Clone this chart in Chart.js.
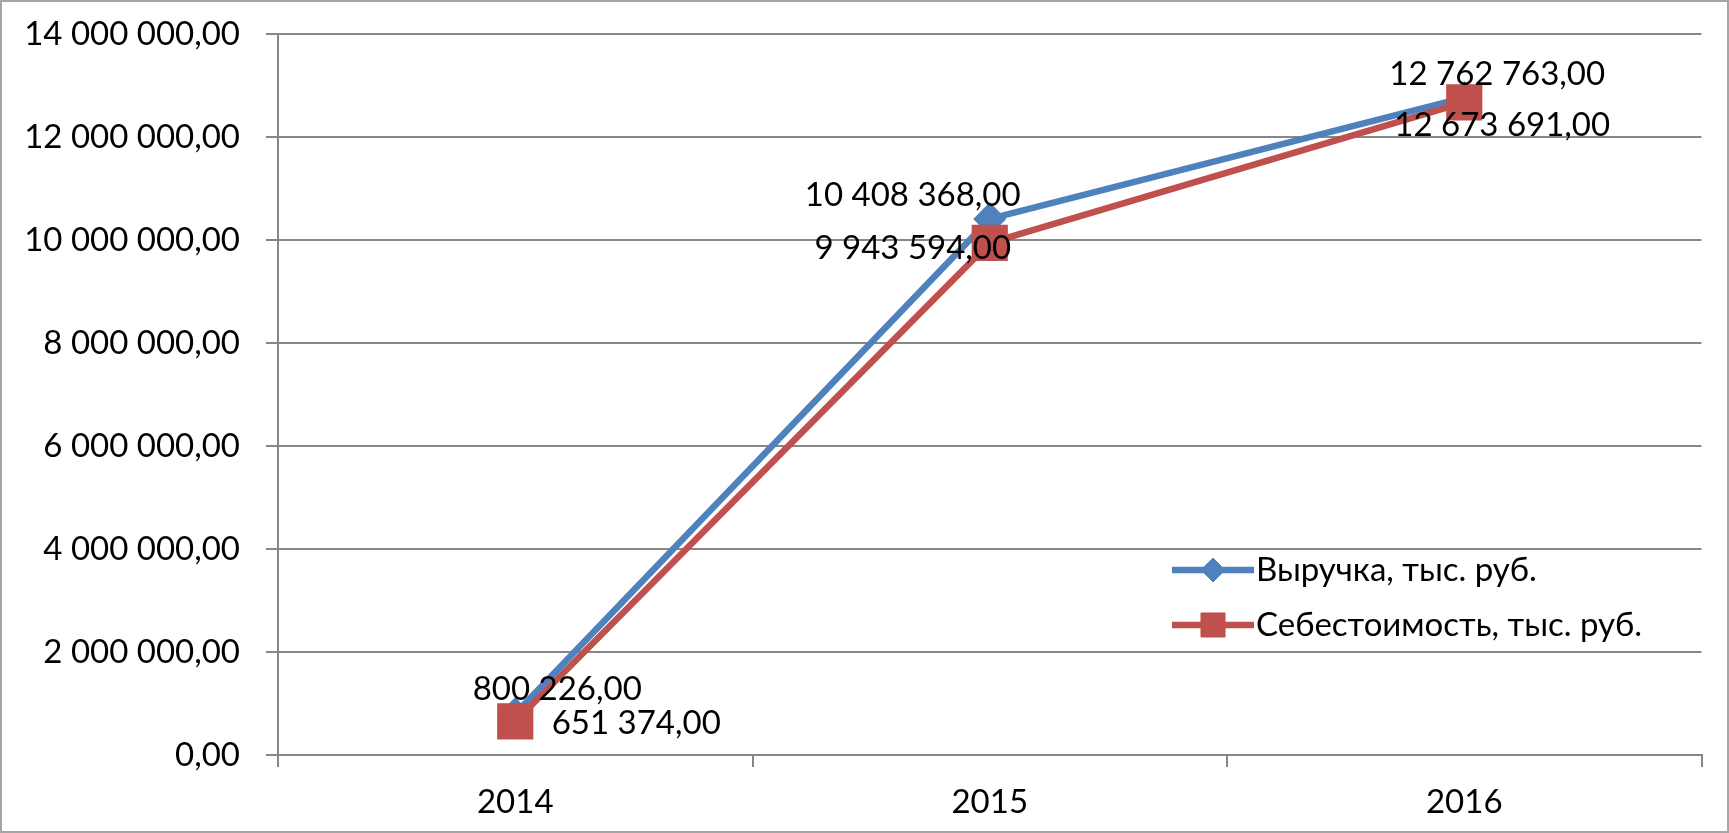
<!DOCTYPE html>
<html>
<head>
<meta charset="utf-8">
<script src="https://cdn.jsdelivr.net/npm/chart.js@4.4.0/dist/chart.umd.min.js"></script>
<style>
    html, body { margin: 0; padding: 0; background: #fff; }
    canvas { display: block; }
</style>
</head>
<body>
<canvas id="chart" width="1729" height="833"></canvas>
<script>
// ===== Data =====
const years = ['2014', '2015', '2016'];
const revenue = [800226, 10408368, 12762763];
const cost = [651374, 9943594, 12673691];
const seriesNames = ['Выручка, тыс. руб.', 'Себестоимость, тыс. руб.'];
const yMin = 0, yMax = 14000000, yStep = 2000000;

// label offsets from the point (label centre), per dataset
const labelOffsets = [
    [[42, -24], [-77, -24], [33, -23]],
    [[121, 2], [-77, 5], [38, 23]]
];

const FONT = { family: 'Lato, "Open Sans", sans-serif', size: 33 };
const GRID = '#878787';

// 12762763 -> "12 762 763,00"
function fmt(v) {
    const [int, dec] = Number(v).toFixed(2).split('.');
    return int.replace(/\B(?=(\d{3})+(?!\d))/g, ' ') + ',' + dec;
}

// ===== Plugins =====
const frame = {
    id: 'frame',
    beforeDraw(chart) {
        const ctx = chart.ctx;
        ctx.save();
        ctx.fillStyle = '#fff';
        ctx.fillRect(0, 0, chart.width, chart.height);
        ctx.strokeStyle = '#a6a6a6';
        ctx.lineWidth = 2;
        ctx.strokeRect(1, 1, chart.width - 2, chart.height - 2);
        ctx.restore();
    }
};

const valueLabels = {
    id: 'valueLabels',
    afterDatasetsDraw(chart) {
        const ctx = chart.ctx;
        ctx.save();
        ctx.font = `${FONT.size}px ${FONT.family}`;
        ctx.fillStyle = '#000';
        ctx.textAlign = 'center';
        ctx.textBaseline = 'middle';
        chart.data.datasets.forEach((ds, i) => {
            chart.getDatasetMeta(i).data.forEach((pt, j) => {
                const [dx, dy] = labelOffsets[i][j];
                ctx.fillText(fmt(ds.data[j]), pt.x + dx, pt.y + dy);
            });
        });
        ctx.restore();
    }
};

const insideLegend = {
    id: 'insideLegend',
    afterDraw(chart) {
        const ctx = chart.ctx;
        const x0 = 1172, x1 = 1254, rows = [570, 625];
        ctx.save();
        chart.data.datasets.forEach((ds, i) => {
            const y = rows[i];
            ctx.strokeStyle = ds.borderColor;
            ctx.lineWidth = ds.borderWidth;
            ctx.beginPath();
            ctx.moveTo(x0, y);
            ctx.lineTo(x1, y);
            ctx.stroke();
            ctx.fillStyle = ds.pointBackgroundColor;
            ctx.strokeStyle = ds.pointBorderColor;
            ctx.lineWidth = 1;
            Chart.helpers.drawPoint(ctx, { pointStyle: ds.pointStyle, radius: ds.legendRadius, rotation: 0, borderWidth: 1 }, (x0 + x1) / 2, y);
            ctx.font = `${FONT.size}px ${FONT.family}`;
            ctx.fillStyle = '#000';
            ctx.textAlign = 'left';
            ctx.textBaseline = 'middle';
            ctx.fillText(ds.label, x1 + 2, y);
        });
        ctx.restore();
    }
};

// ===== Chart =====
new Chart(document.getElementById('chart'), {
    type: 'line',
    data: {
        labels: years,
        datasets: [
            {
                label: seriesNames[0], data: revenue,
                borderColor: '#4F81BD', borderWidth: 6.5,
                pointStyle: 'rectRot', pointRadius: 12, legendRadius: 12,
                pointBackgroundColor: '#4F81BD', pointBorderColor: '#4F81BD',
                tension: 0, order: 1
            },
            {
                label: seriesNames[1], data: cost,
                borderColor: '#C0504D', borderWidth: 6.5,
                pointStyle: 'rect', pointRadius: 21, legendRadius: 17,
                pointBackgroundColor: '#C0504D', pointBorderColor: '#C0504D',
                tension: 0, order: 0
            }
        ]
    },
    options: {
        responsive: false,
        animation: false,
        layout: { padding: { top: 34, right: 24, left: 0, bottom: 0 } },
        plugins: { legend: { display: false }, tooltip: { enabled: false } },
        scales: {
            x: {
                offset: true,
                grid: { offset: true, drawOnChartArea: false, drawTicks: true, tickLength: 12, color: GRID, lineWidth: 2 },
                border: { color: GRID, width: 2 },
                ticks: { color: '#000', font: FONT, padding: 16, maxRotation: 0 },
                afterFit: s => { s.height = 78; }
            },
            y: {
                min: yMin, max: yMax,
                ticks: { stepSize: yStep, callback: v => fmt(v), color: '#000', font: FONT, padding: 26 },
                grid: { color: GRID, lineWidth: 2, tickLength: 12 },
                border: { color: GRID, width: 2 },
                afterFit: s => { s.width = 278; s.paddingTop = 0; s.paddingBottom = 0; }
            }
        }
    },
    plugins: [frame, valueLabels, insideLegend]
});
</script>
</body>
</html>
